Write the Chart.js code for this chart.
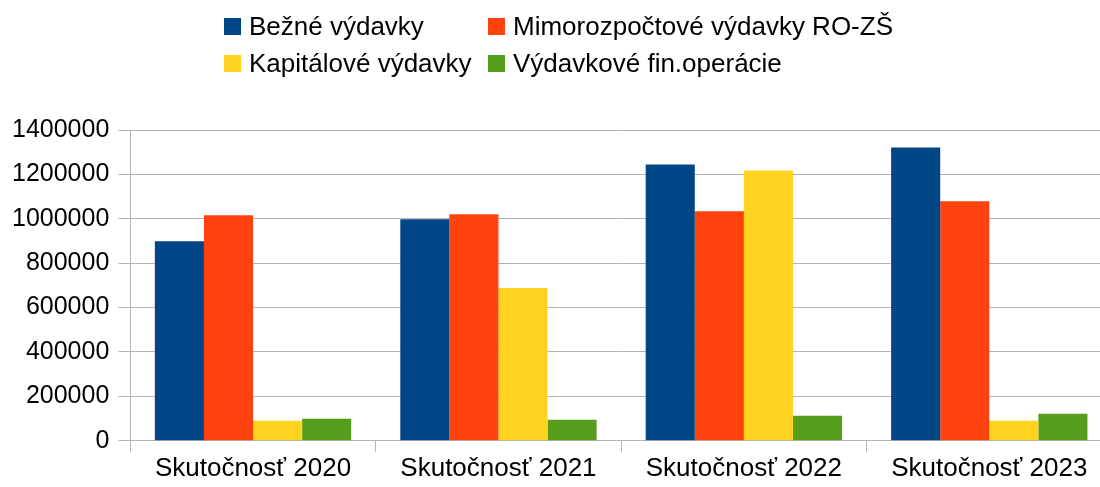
<!DOCTYPE html>
<html>
<head>
<meta charset="utf-8">
<script src="https://cdn.jsdelivr.net/npm/chart.js@4/dist/chart.umd.min.js"></script>
<style>
    html, body { margin: 0; padding: 0; background: #fff; overflow: hidden; }
    #wrap { position: relative; width: 1100px; height: 487px; overflow: hidden; }
    #box { position: absolute; left: 0; top: 0; width: 1113px; height: 487px; }
    #legend {
        position: absolute; left: 224px; top: 11px;
        display: grid; grid-template-columns: 264px auto; row-gap: 7px;
        font-family: "Liberation Sans", Arial, sans-serif; font-size: 26px; color: #000;
    }
    .item { display: flex; align-items: center; white-space: nowrap; height: 30px; }
    .sw { flex: 0 0 17px; width: 17px; height: 17px; margin-right: 8px; }
</style>
</head>
<body>
<div id="wrap">
    <div id="box"><canvas id="chart"></canvas></div>
    <div id="legend"></div>
</div>
<script>
// ===== DATA =====
const categories = ["Skutočnosť 2020", "Skutočnosť 2021", "Skutočnosť 2022", "Skutočnosť 2023"];
const seriesNames = ["Bežné výdavky", "Mimorozpočtové výdavky RO-ZŠ", "Kapitálové výdavky", "Výdavkové fin.operácie"];
const bezne = [899000, 998000, 1245000, 1321000];
const mimorozpoctove = [1016000, 1020000, 1034000, 1079000];
const kapitalove = [90000, 688000, 1218000, 90000];
const finOperacie = [99000, 94000, 112000, 121000];
const yTicks = [0, 200000, 400000, 600000, 800000, 1000000, 1200000, 1400000];

const colors = ["#004586", "#ff420e", "#ffd320", "#579d1c"];
const values = [bezne, mimorozpoctove, kapitalove, finOperacie];

// ===== LEGEND (two aligned columns) =====
const legendEl = document.getElementById("legend");
seriesNames.forEach((name, i) => {
    const div = document.createElement("div");
    div.className = "item";
    div.innerHTML = `<span class="sw" style="background:${colors[i]}"></span><span>${name}</span>`;
    legendEl.appendChild(div);
});

// ===== CHART =====
const gridColor = "#b3b3b3";
const fontFamily = "'Liberation Sans', Arial, sans-serif";

new Chart(document.getElementById("chart"), {
    type: "bar",
    data: {
        labels: categories,
        datasets: values.map((v, i) => ({
            label: seriesNames[i],
            data: v,
            backgroundColor: colors[i],
            borderWidth: 0,
            barPercentage: 1,
            categoryPercentage: 0.8
        }))
    },
    options: {
        responsive: true,
        maintainAspectRatio: false,
        animation: false,
        layout: { padding: { top: 130, left: 3, right: 1, bottom: 0 } },
        plugins: {
            legend: { display: false },
            tooltip: { enabled: false }
        },
        scales: {
            x: {
                grid: {
                    offset: true,
                    drawOnChartArea: false,
                    drawTicks: true,
                    tickLength: 11,
                    color: gridColor
                },
                border: { color: gridColor },
                ticks: {
                    color: "#000",
                    font: { family: fontFamily, size: 26, lineHeight: 0.36 },
                    padding: 13,
                    maxRotation: 0
                }
            },
            y: {
                min: 0,
                max: 1400000,
                afterBuildTicks: axis => { axis.ticks = yTicks.map(v => ({ value: v })); },
                grid: { color: gridColor, tickLength: 12 },
                border: { color: gridColor },
                ticks: {
                    color: "#000",
                    font: { family: fontFamily, size: 25 },
                    padding: 9,
                    callback: v => String(v)
                }
            }
        }
    }
});
</script>
</body>
</html>
